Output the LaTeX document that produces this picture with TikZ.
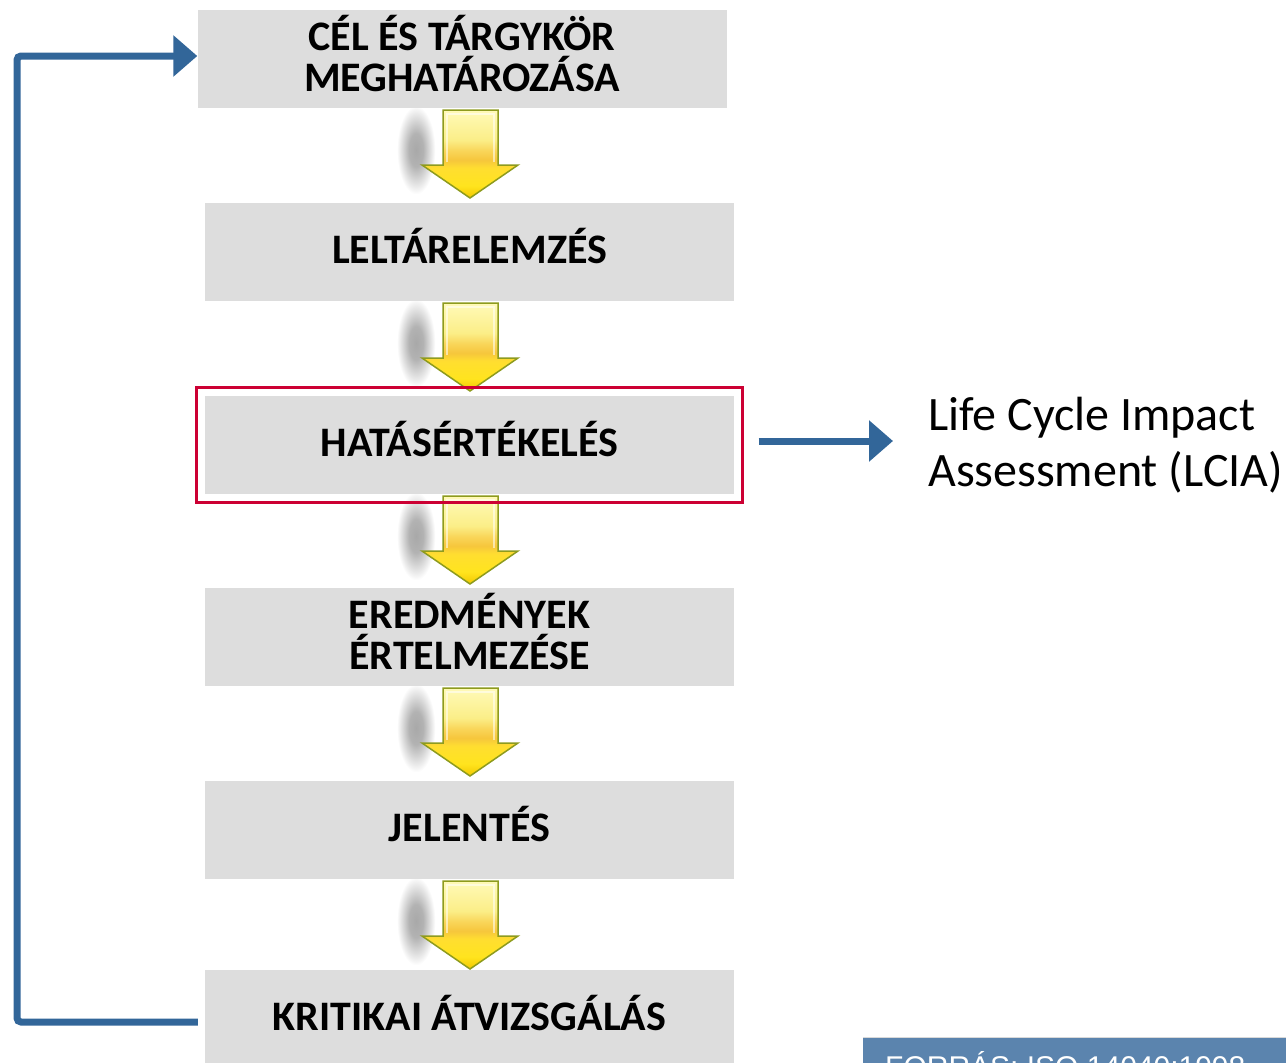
\documentclass[tikz,border=0pt]{standalone}
\usepackage{fontspec}
\setmainfont{Carlito}
\newfontfamily\arialf{Liberation Sans}
\usetikzlibrary{arrows.meta,fit}
\definecolor{boxgray}{HTML}{DDDDDD}
\definecolor{fbblue}{HTML}{326699}
\definecolor{framered}{HTML}{CC0033}
\definecolor{srcblue}{HTML}{5B84AE}
\definecolor{arrowedge}{HTML}{8E9B1E}
% soft oval shadow: grey core fading to white at the rim
\pgfdeclareradialshading{softblob}{\pgfpoint{0bp}{0bp}}{%
  color(0bp)=(black!34); color(9bp)=(black!30); color(17bp)=(black!14);
  color(24bp)=(white); color(50bp)=(white)}
% glossy yellow fill: pale top, orange band, bright yellow head
\pgfdeclareverticalshading{glossyyellow}{100bp}{%
  color(0bp)=(rgb,255:red,242;green,200;blue,0);
  color(25bp)=(rgb,255:red,242;green,200;blue,0);
  color(32bp)=(rgb,255:red,255;green,228;blue,30);
  color(42bp)=(rgb,255:red,255;green,222;blue,48);
  color(46.6bp)=(rgb,255:red,246;green,198;blue,60);
  color(52bp)=(rgb,255:red,249;green,214;blue,90);
  color(58bp)=(rgb,255:red,251;green,238;blue,136);
  color(75bp)=(rgb,255:red,255;green,250;blue,184);
  color(100bp)=(rgb,255:red,255;green,250;blue,184)}
\begin{document}
\begin{tikzpicture}[x=1pt,y=-1pt,
  stepbox/.style={fill=boxgray, minimum width=529pt, minimum height=98pt,
    inner sep=0pt, align=center, text depth=12pt,
    font=\fontsize{42}{41}\selectfont\bfseries},
  fbline/.style={draw=fbblue, line width=7pt, rounded corners=4pt,
    -{Triangle[length=24pt,width=40pt]}},
  yarrow/.pic={
    % soft shadow left of the arrow
    \shade[shading=softblob] (-54,40) ellipse (20 and 46);
    % the yellow down arrow
    \shade[shading=glossyyellow, draw=arrowedge, line width=1.5pt, line join=miter]
      (-27,0) -- (28,0) -- (28,55) -- (48,55) -- (0,88) -- (-48,55) -- (-27,55) -- cycle;
    % inner highlight along the shaft
    \draw[white, opacity=0.55, line width=1.2pt]
      (-23,52) -- (-23,4) -- (24,4) -- (24,52);
  }
]
\useasboundingbox (0,0) rectangle (1286,1063);
\clip (0,0) rectangle (1286,1063);

% yellow arrows between the steps (drawn first, the boxes sit on top)
\pic at (470,110) {yarrow};
\pic at (470,303) {yarrow};
\pic at (470,496) {yarrow};
\pic at (470,688) {yarrow};
\pic at (470,881) {yarrow};

% process steps
\node[stepbox] (c) at (462,59)    {CÉL ÉS TÁRGYKÖR\\MEGHATÁROZÁSA};
\node[stepbox] (l) at (469.5,252) {LELTÁRELEMZÉS};
\node[stepbox] (h) at (469.5,445) {HATÁSÉRTÉKELÉS};
\node[stepbox] (e) at (469.5,637) {EREDMÉNYEK\\ÉRTELMEZÉSE};
\node[stepbox] (j) at (469.5,830) {JELENTÉS};
\node[stepbox] (k) at (469.5,1019) {KRITIKAI ÁTVIZSGÁLÁS};

% highlight frame around the impact assessment step
\node[draw=framered, line width=3pt, fit=(h), inner sep=8pt] (hf) {};

% English label
\node[anchor=west, inner sep=0pt, align=left, font=\fontsize{48}{56}\selectfont]
  (lcia) at (928,445) {Life Cycle Impact\\Assessment (LCIA)};
\draw[fbline] ([shift={(15,-4)}]hf.east) -- ([shift={(-35,-4)}]lcia.west);

% feedback loop from the review back to the goal definition
\draw[fbline] ([shift={(-7,3)}]k.west) -- (17,1022) -- (17,56) -- ([shift={(0,-3)}]c.west);

% source box
\fill[srcblue] (863,1038) rectangle (1300,1090);
\draw[black!15, line width=1pt] (863,1037.5) -- (1300,1037.5);
\node[anchor=base west, inner sep=0pt, text=white, font=\arialf\fontsize{30}{36}\selectfont]
  (src) at (885,1077) {FORRÁS: ISO 14040:1998};
\end{tikzpicture}
\end{document}
